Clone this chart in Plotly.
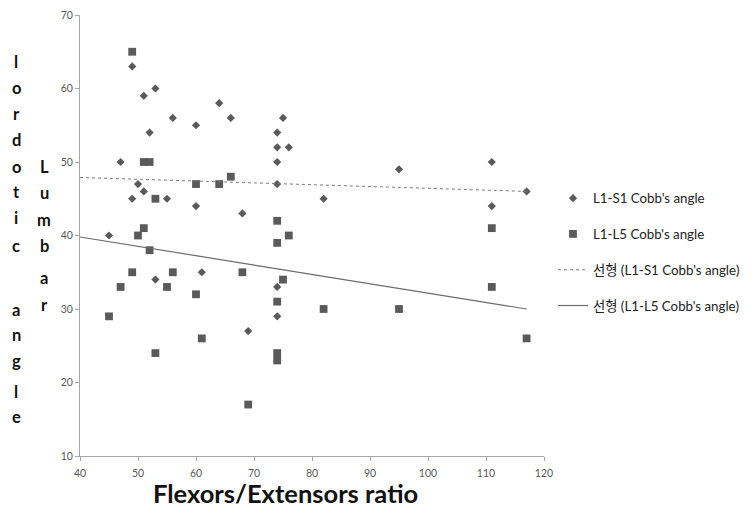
import plotly.graph_objects as go

# L1-S1 Cobb's angle (diamonds)
s1_x = [45, 47, 49, 49, 50, 51, 51, 52, 53, 53, 55, 56, 60, 60, 61, 64, 66, 68, 69,
        74, 74, 74, 74, 74, 74, 75, 76, 82, 95, 111, 111, 117]
s1_y = [40, 50, 63, 45, 47, 46, 59, 54, 60, 34, 45, 56, 55, 44, 35, 58, 56, 43, 27,
        54, 52, 50, 47, 33, 29, 56, 52, 45, 49, 50, 44, 46]

# L1-L5 Cobb's angle (squares)
l5_x = [45, 47, 49, 49, 50, 51, 51, 52, 52, 53, 53, 55, 56, 60, 60, 61, 64, 66, 68, 69,
        74, 74, 74, 74, 74, 75, 76, 82, 95, 111, 111, 117]
l5_y = [29, 33, 65, 35, 40, 50, 41, 50, 38, 45, 24, 33, 35, 47, 32, 26, 47, 48, 35, 17,
        42, 39, 31, 24, 23, 34, 40, 30, 30, 41, 33, 26]

# linear trendlines (start / end)
trend_x = [40, 117]
s1_trend_y = [47.9, 46.0]
l5_trend_y = [39.8, 30.0]

x_ticks = [40, 50, 60, 70, 80, 90, 100, 110, 120]
y_ticks = [10, 20, 30, 40, 50, 60, 70]

names = ["L1-S1 Cobb's angle", "L1-L5 Cobb's angle",
         "선형 (L1-S1 Cobb's angle)", "선형 (L1-L5 Cobb's angle)"]
x_title = "Flexors/Extensors ratio"
y_title_left_1 = "lordotic"
y_title_left_2 = "angle"
y_title_right = "Lumbar"

FONT = "Lato, 'Noto Sans', 'Noto Sans CJK KR', sans-serif"
W, H = 751, 508
L, R, T, B = 80, 207, 15, 52
PW, PH = W - L - R, H - T - B


def px_x(px):
    return (px - L) / PW


def px_y(py):
    return (H - B - py) / PH


fig = go.Figure()
mcol = "#5a5a5a"
fig.add_trace(go.Scatter(x=s1_x, y=s1_y, mode="markers", name=names[0], legendgroup="a",
                         marker=dict(symbol="diamond", size=6.3, color=mcol)))
fig.add_trace(go.Scatter(x=l5_x, y=l5_y, mode="markers", name=names[1], legendgroup="b",
                         marker=dict(symbol="square", size=7.8, color=mcol)))
fig.add_trace(go.Scatter(x=trend_x, y=s1_trend_y, mode="lines", name=names[2],
                         legendgroup="c", line=dict(color="#7a7a7a", width=1, dash="dot")))
fig.add_trace(go.Scatter(x=trend_x, y=l5_trend_y, mode="lines", name=names[3],
                         legendgroup="d", line=dict(color="#6a6a6a", width=1.2)))

axis_common = dict(showgrid=False, zeroline=False, showline=True, linecolor="#a6a6a6",
                   linewidth=1, ticks="outside", ticklen=4, tickcolor="#a6a6a6",
                   tickfont=dict(family=FONT, size=10.5, color="#595959"))
fig.update_xaxes(range=[40, 120], tickvals=x_ticks, ticklabelstandoff=3, **axis_common)
fig.update_yaxes(range=[10, 70], tickvals=y_ticks, **axis_common)

ann = []
# x axis title
ann.append(dict(text="<b>" + x_title + "</b>", x=px_x(285), y=px_y(493), xref="paper", yref="paper",
                xanchor="center", yanchor="middle", showarrow=False,
                font=dict(family=FONT, size=25.5, color="#111111")))
# vertical stacked y-axis title letters (baselines measured)
left1_base = [67, 93, 119, 145, 172, 197, 223, 251]
left2_base = [315, 340, 366, 397, 422]
right_base = [172, 198, 225, 251, 283, 310]
for word, bases, cx in [(y_title_left_1, left1_base, 16), (y_title_left_2, left2_base, 16),
                        (y_title_right, right_base, 44)]:
    for ch, b in zip(word, bases):
        ann.append(dict(text="<b>" + ch + "</b>", x=px_x(cx), y=px_y(b - 5), xref="paper", yref="paper",
                        xanchor="center", yanchor="middle", showarrow=False,
                        font=dict(family=FONT, size=16.5, color="#111111")))

fig.update_layout(
    width=W, height=H, margin=dict(l=L, r=R, t=T, b=B, autoexpand=False),
    paper_bgcolor="white", plot_bgcolor="white",
    showlegend=True,
    legend=dict(x=px_x(553), y=px_y(183), xanchor="left", yanchor="top",
                font=dict(family=FONT, size=13.3, color="#222222"),
                tracegroupgap=15.5, bgcolor="rgba(0,0,0,0)"),
    annotations=ann,
)

fig.write_html("out.html")
